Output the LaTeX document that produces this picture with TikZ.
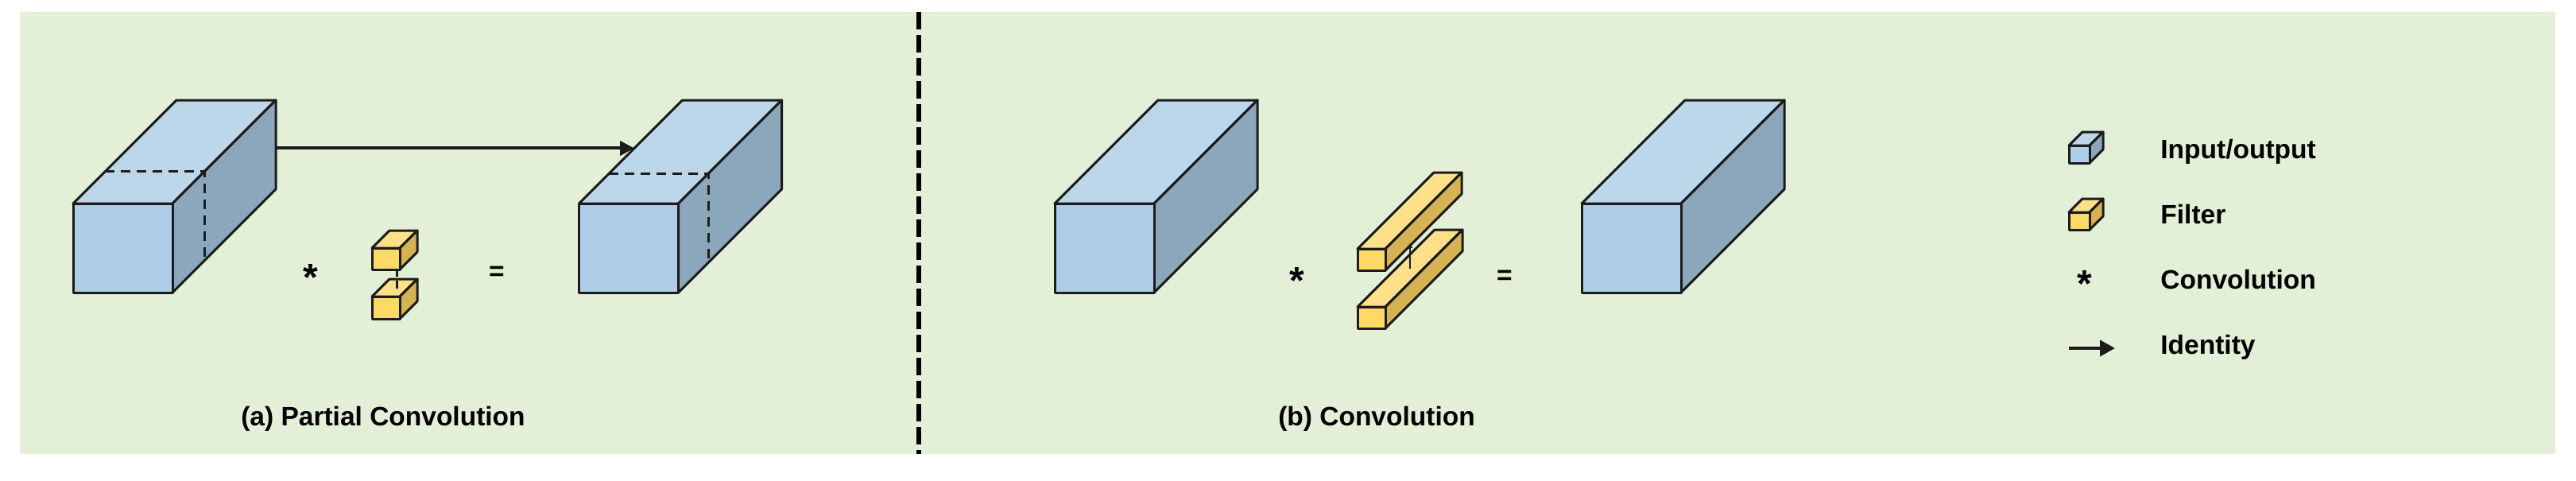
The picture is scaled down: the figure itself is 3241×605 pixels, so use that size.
\documentclass[tikz,border=0pt]{standalone}
\usepackage{fontspec}
\setmainfont{Liberation Sans}
\usetikzlibrary{calc,arrows.meta}
\definecolor{bg}{HTML}{E3F0D8}
\definecolor{blueF}{HTML}{B0CDE7}
\definecolor{blueT}{HTML}{BDD7EA}
\definecolor{blueS}{HTML}{8CA7BC}
\definecolor{yelF}{HTML}{FFD966}
\definecolor{yelT}{HTML}{FFE08A}
\definecolor{yelS}{HTML}{D5B355}
\definecolor{edge}{HTML}{1C1C1C}
\tikzset{
  cubeedge/.style={draw=edge, line width=1.5pt, line join=round},
  hidden/.style={draw=edge, line width=1.6pt, dash pattern=on 6pt off 4pt},
  lbl/.style={font=\fontsize{16.75}{20}\selectfont\bfseries, inner sep=0pt, text=black},
  opsym/.style={font=\fontsize{16.75}{20}\selectfont\bfseries, inner sep=0pt},
  starsym/.style={font=\fontsize{24}{24}\selectfont\bfseries, inner sep=0pt},
  idarrow/.style={draw=edge, line width=2pt, -{Triangle[length=9pt,width=9pt]}},
}
% #1 name, #2 x, #3 y (front top-left), #4 width, #5 height, #6 depth, #7 colour prefix
\newcommand{\cuboid}[7]{%
  \coordinate (#1-A) at (#2,#3);
  \coordinate (#1-B) at ($(#1-A)+(#4,0)$);
  \coordinate (#1-C) at ($(#1-B)+(0,#5)$);
  \coordinate (#1-D) at ($(#1-A)+(0,#5)$);
  \coordinate (#1-E) at ($(#1-A)+(#6,-#6)$);
  \coordinate (#1-F) at ($(#1-B)+(#6,-#6)$);
  \coordinate (#1-G) at ($(#1-C)+(#6,-#6)$);
  \filldraw[cubeedge, fill=#7T] (#1-A) -- (#1-E) -- (#1-F) -- (#1-B) -- cycle;
  \filldraw[cubeedge, fill=#7S] (#1-B) -- (#1-F) -- (#1-G) -- (#1-C) -- cycle;
  \filldraw[cubeedge, fill=#7F] (#1-A) -- (#1-B) -- (#1-C) -- (#1-D) -- cycle;
}
\begin{document}
\begin{tikzpicture}[x=0.5pt,y=-0.5pt]
\useasboundingbox (0,0) rectangle (3241,605);
\fill[white] (0,0) rectangle (3241,605);
\fill[bg] (25,15) rectangle (3215,571);

% separator
\coordinate (sepT) at (1156,15);
\coordinate (sepB) at (1156,571);
\draw[black, line width=3pt, dash pattern=on 11pt off 3.5pt] (sepT) -- (sepB);

% ---------- (a) Partial convolution ----------
\cuboid{inA}{92}{256}{125}{112}{130}{blue}
\draw[hidden] ($(inA-A)!0.31!(inA-E)$) -- ($(inA-B)!0.31!(inA-F)$) -- ($(inA-C)!0.31!(inA-G)$);
\cuboid{outA}{728.5}{256}{125}{112}{130}{blue}
\draw[hidden] ($(outA-A)!0.29!(outA-E)$) -- ($(outA-B)!0.29!(outA-F)$) -- ($(outA-C)!0.29!(outA-G)$);

\coordinate (arrS) at ($(inA-F)!0.54!(inA-G)$);
\coordinate (arrE) at (intersection of arrS--{$(arrS)+(10,0)$} and outA-A--outA-E);
\draw[idarrow] (arrS) -- (arrE);

\cuboid{fA1}{468}{312}{35}{27}{22}{yel}
\cuboid{fA2}{468}{373}{35}{28}{22}{yel}
\coordinate (linkA1) at (499,339);
\coordinate (linkA2) at (499,348);
\coordinate (linkA3) at (499,353);
\coordinate (linkA4) at (499,363);
\draw[draw=edge, line width=1.5pt] (linkA1) -- (linkA2);
\draw[draw=edge, line width=1.5pt] (linkA3) -- (linkA4);

\node[starsym] (starA) at (391,349) {*};
\node[opsym] (eqA) at (625,344) {=};
\node[lbl, anchor=base] (capA) at (482,535) {(a) Partial Convolution};

% ---------- (b) Convolution ----------
\cuboid{inB}{1327}{256}{125}{112}{130}{blue}
\cuboid{outB}{1990}{256}{125}{112}{130}{blue}
\cuboid{fB1}{1708}{313}{35}{27}{96}{yel}
\cuboid{fB2}{1708}{386}{35}{27}{97}{yel}
\coordinate (linkB1) at (1774,338);
\coordinate (linkB2) at (1774,306);
\draw[draw=edge, line width=1pt, -{Triangle[length=3pt,width=3pt]}] (linkB1) -- (linkB2);

\node[starsym] (starB) at (1632,353) {*};
\node[opsym] (eqB) at (1893,349) {=};
\node[lbl, anchor=base] (capB) at (1732,535) {(b) Convolution};

% ---------- legend ----------
\cuboid{lgB}{2603}{183}{26}{22}{17}{blue}
\cuboid{lgY}{2603}{267}{26}{22}{17}{yel}
\node[starsym] (lgStar) at (2623,357) {*};
\coordinate (lgArrS) at (2603,438);
\coordinate (lgArrE) at (2661,438);
\draw[idarrow, -{Triangle[length=9.5pt,width=10pt]}] (lgArrS) -- (lgArrE);
\node[lbl, anchor=base west] (lgT1) at (2718,199) {Input/output};
\node[lbl, anchor=base west] (lgT2) at (2718,281) {Filter};
\node[lbl, anchor=base west] (lgT3) at (2718,363) {Convolution};
\node[lbl, anchor=base west] (lgT4) at (2718,445) {Identity};
\end{tikzpicture}
\end{document}
